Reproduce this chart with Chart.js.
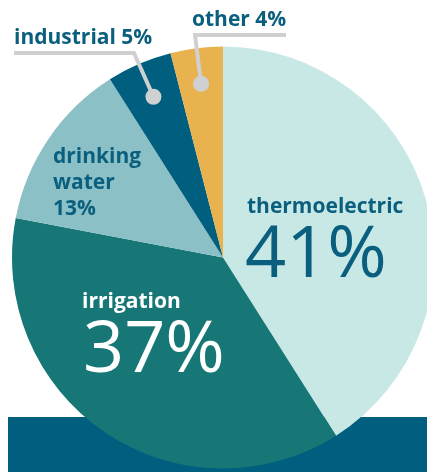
<!DOCTYPE html>
<html>
<head>
<meta charset="utf-8">
<script src="https://cdn.jsdelivr.net/npm/chart.js@4/dist/chart.umd.min.js"></script>
<style>
  html, body { margin: 0; padding: 0; background: #fff; overflow: hidden; width: 427px; height: 472px; }
  #wrap { position: absolute; left: 0; top: 0; width: 446px; height: 515px; }
</style>
</head>
<body>
<div id="wrap"><canvas id="pie"></canvas></div>
<script>
"use strict";

// Water use by sector, percent of total
const sectors = ["thermoelectric", "irrigation", "drinking water", "industrial", "other"];
const shares = [41, 37, 13, 5, 4];
const sliceColors = ["#c8e8e6", "#177777", "#8bc0c6", "#005e7e", "#e8b24f"];

const DARK = "#0b5f7e";
const LEADER = "#cfd0d2";
const FONT = "'Open Sans', 'Noto Sans', sans-serif";

// Label text for each slice, drawn relative to the pie centre (dx, dy = baseline)
const insideLabels = [
  { i: 0, lines: [["thermoelectric", "bold 21px", 24, -45], ["41%", "72px", 22, 19]], color: DARK },
  { i: 1, lines: [["irrigation", "bold 21px", -141, 50], ["37%", "72px", -140, 114]], color: "#fff" },
  { i: 2, lines: [["drinking", "bold 21px", -170, -95], ["water", "bold 21px", -170, -69], ["13%", "bold 21px", -170, -43]], color: DARK },
];
// Outside labels with leader lines to a dot inside the slice
const outsideLabels = [
  { i: 3, text: "industrial 5%", tx: 14, ty: 44, path: [[14, 53], [134, 53]] },
  { i: 4, text: "other 4%", tx: 192, ty: 26, path: [[286, 35], [195, 35]] },
];

// Dark band behind the bottom of the pie
const bandPlugin = {
  id: "band",
  beforeDatasetsDraw(chart) {
    const ctx = chart.ctx;
    ctx.save();
    ctx.fillStyle = "#005e7e";
    ctx.fillRect(8, 417, chart.width - 8, chart.height - 417);
    ctx.restore();
  },
};

const labelPlugin = {
  id: "sliceLabels",
  afterDatasetsDraw(chart) {
    const ctx = chart.ctx;
    const arcs = chart.getDatasetMeta(0).data;
    const cx = arcs[0].x, cy = arcs[0].y;
    ctx.save();
    ctx.textAlign = "left";
    ctx.textBaseline = "alphabetic";

    insideLabels.forEach((lab) => {
      ctx.fillStyle = lab.color;
      lab.lines.forEach(([txt, font, dx, dy]) => {
        ctx.font = `${font} ${FONT}`;
        ctx.fillText(txt, cx + dx, cy + dy);
      });
    });

    outsideLabels.forEach((lab) => {
      const a = arcs[lab.i];
      const mid = (a.startAngle + a.endAngle) / 2;
      const r = a.outerRadius * 0.83;
      const dotX = a.x + Math.cos(mid) * r;
      const dotY = a.y + Math.sin(mid) * r;

      ctx.strokeStyle = LEADER;
      ctx.lineWidth = 4;
      ctx.lineJoin = "miter";
      ctx.beginPath();
      ctx.moveTo(lab.path[0][0], lab.path[0][1]);
      lab.path.slice(1).forEach(([x, y]) => ctx.lineTo(x, y));
      ctx.lineTo(dotX, dotY);
      ctx.stroke();

      ctx.fillStyle = LEADER;
      ctx.beginPath();
      ctx.arc(dotX, dotY, 8, 0, Math.PI * 2);
      ctx.fill();

      ctx.fillStyle = DARK;
      ctx.font = `bold 21px ${FONT}`;
      ctx.fillText(lab.text, lab.tx, lab.ty);
    });
    ctx.restore();
  },
};

new Chart(document.getElementById("pie"), {
  type: "pie",
  data: {
    labels: sectors,
    datasets: [{
      data: shares,
      backgroundColor: sliceColors,
      borderWidth: 0,
    }],
  },
  options: {
    responsive: true,
    maintainAspectRatio: false,
    animation: false,
    layout: { padding: 12 },
    plugins: {
      legend: { display: false },
      tooltip: { enabled: false },
    },
  },
  plugins: [bandPlugin, labelPlugin],
});
</script>
</body>
</html>
